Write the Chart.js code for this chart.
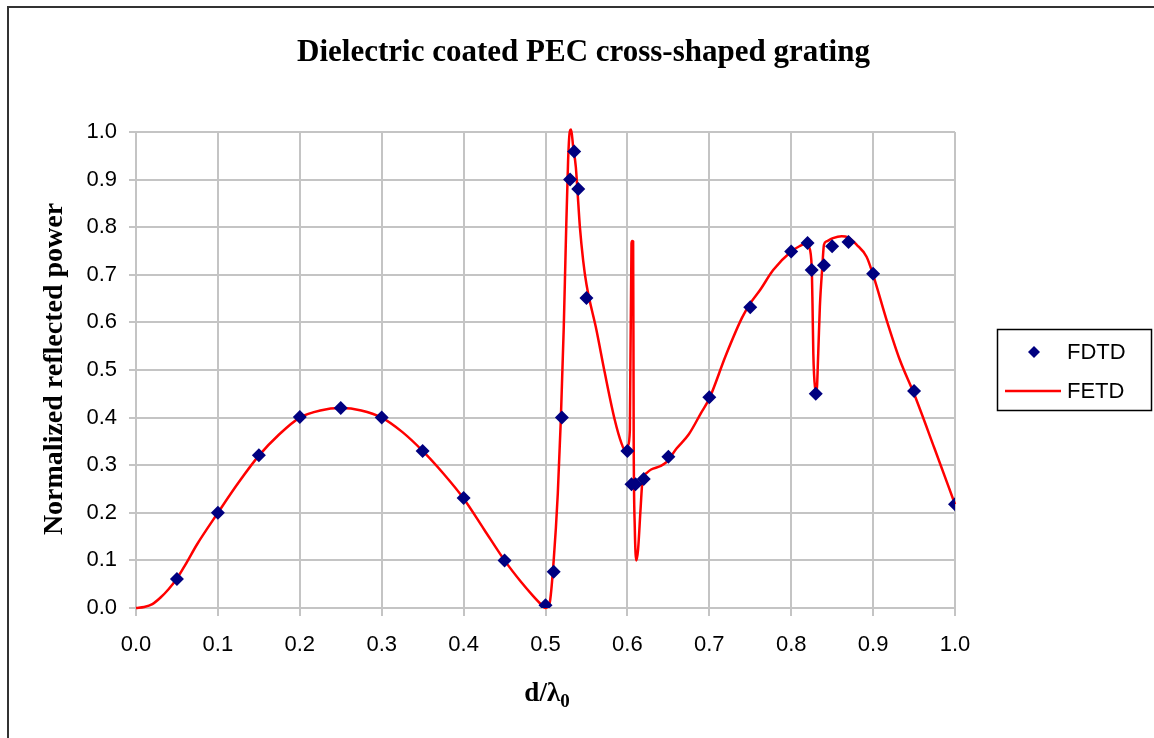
<!DOCTYPE html>
<html>
<head>
<meta charset="utf-8">
<script src="https://cdn.jsdelivr.net/npm/chart.js@4/dist/chart.umd.min.js"></script>
<style>
  html, body { margin: 0; padding: 0; background: #fff; }
  #wrap { width: 1154px; height: 738px; }
</style>
</head>
<body>
<div id="wrap"><canvas id="chart" width="1154" height="738"></canvas></div>
<script>
// FDTD samples (markers)
const fdtdX = [0.05, 0.1, 0.15, 0.2, 0.25, 0.3, 0.35, 0.4, 0.45, 0.5, 0.51, 0.52, 0.53, 0.535, 0.54, 0.55,
  0.6, 0.605, 0.61, 0.62, 0.65, 0.7, 0.75, 0.8, 0.82, 0.825, 0.83, 0.84, 0.85, 0.87, 0.9, 0.95, 1.0];
const fdtdY = [0.061, 0.2, 0.321, 0.401, 0.42, 0.4, 0.33, 0.231, 0.1, 0.006, 0.076, 0.4, 0.9, 0.959, 0.88, 0.651,
  0.33, 0.26, 0.26, 0.271, 0.318, 0.443, 0.632, 0.749, 0.767, 0.71, 0.45, 0.72, 0.76, 0.769, 0.702, 0.456, 0.218];

// FETD curve (line)
const fetdX = [0, 0.01, 0.02, 0.03, 0.04, 0.05, 0.06, 0.075, 0.1, 0.125, 0.15, 0.175, 0.2, 0.225, 0.25, 0.275,
  0.3, 0.325, 0.35, 0.375, 0.4, 0.425, 0.45, 0.47, 0.485, 0.495, 0.5, 0.505, 0.51, 0.515, 0.5187, 0.5223,
  0.5248, 0.5276, 0.5296, 0.5313, 0.5337, 0.537, 0.539, 0.542, 0.546, 0.55, 0.5622, 0.5724, 0.5846, 0.5928,
  0.5968, 0.6009, 0.603, 0.605, 0.6058, 0.607, 0.6077, 0.609, 0.611, 0.613, 0.616, 0.6185, 0.623, 0.629,
  0.64, 0.648, 0.66, 0.675, 0.69, 0.7, 0.72, 0.74, 0.75, 0.762, 0.778, 0.8, 0.81, 0.82, 0.8217, 0.825,
  0.826, 0.827, 0.829, 0.831, 0.833, 0.835, 0.838, 0.84, 0.843, 0.851, 0.8616, 0.869, 0.88, 0.892, 0.9,
  0.9165, 0.9327, 0.95, 0.975, 1.0];
const fetdY = [0, 0.002, 0.008, 0.022, 0.04, 0.062, 0.09, 0.135, 0.2, 0.263, 0.32, 0.365, 0.4, 0.415, 0.42, 0.415,
  0.4, 0.37, 0.33, 0.283, 0.23, 0.165, 0.1, 0.055, 0.025, 0.007, 0.0, 0.01, 0.1, 0.24, 0.395, 0.59,
  0.766, 0.94, 1.0, 1.005, 0.97, 0.927, 0.878, 0.8, 0.73, 0.68, 0.584, 0.494, 0.395, 0.346,
  0.332, 0.342, 0.374, 0.766, 0.771, 0.77, 0.347, 0.17, 0.1, 0.122, 0.206, 0.269, 0.283, 0.291,
  0.298, 0.307, 0.335, 0.365, 0.41, 0.44, 0.53, 0.61, 0.64, 0.668, 0.71, 0.749, 0.76, 0.767, 0.759, 0.717,
  0.64, 0.535, 0.465, 0.455, 0.535, 0.633, 0.717, 0.763, 0.77, 0.777, 0.781, 0.779, 0.763, 0.738, 0.7,
  0.605, 0.521, 0.45, 0.335, 0.218];

const chartTitle = 'Dielectric coated PEC cross-shaped grating';
const yTitle = 'Normalized reflected power';
const seriesNames = ['FDTD', 'FETD'];

const markerColor = '#000080';
const lineColor = '#ff0000';
const gridColor = '#c4c4c4';

function toPoints(xs, ys) {
  return xs.map((x, i) => ({ x: x, y: ys[i] }));
}

function diamond(ctx, x, y, r) {
  ctx.beginPath();
  ctx.moveTo(x, y - r);
  ctx.lineTo(x + r, y);
  ctx.lineTo(x, y + r);
  ctx.lineTo(x - r, y);
  ctx.closePath();
  ctx.fill();
}

// titles, frame and legend box drawn around the chart
const decorations = {
  id: 'decorations',
  afterDraw(chart) {
    const ctx = chart.ctx;
    ctx.save();

    // outer frame (top + left edge only visible)
    ctx.strokeStyle = '#333';
    ctx.lineWidth = 2;
    ctx.beginPath();
    ctx.moveTo(8, 738);
    ctx.lineTo(8, 7);
    ctx.lineTo(1154, 7);
    ctx.stroke();

    ctx.fillStyle = '#000';
    ctx.textAlign = 'center';
    ctx.textBaseline = 'alphabetic';
    ctx.font = 'bold 31px "Liberation Serif", "Times New Roman", serif';
    ctx.fillText(chartTitle, 583.5, 61);

    // y axis title
    ctx.save();
    ctx.translate(62, 369);
    ctx.rotate(-Math.PI / 2);
    ctx.font = 'bold 28px "Liberation Serif", "Times New Roman", serif';
    ctx.fillText(yTitle, 0, 0);
    ctx.restore();

    // x axis title d/λ0
    ctx.font = 'bold 27px "Liberation Serif", "Times New Roman", serif';
    ctx.textAlign = 'left';
    const main = 'd/λ';
    const w = ctx.measureText(main).width;
    ctx.font = 'bold 19px "Liberation Serif", "Times New Roman", serif';
    const ws = ctx.measureText('0').width;
    const x0 = 547 - (w + ws) / 2;
    ctx.font = 'bold 27px "Liberation Serif", "Times New Roman", serif';
    ctx.fillText(main, x0, 701);
    ctx.font = 'bold 19px "Liberation Serif", "Times New Roman", serif';
    ctx.fillText('0', x0 + w, 707);

    // legend
    ctx.strokeStyle = '#000';
    ctx.lineWidth = 1.5;
    ctx.strokeRect(997.5, 329.5, 154, 81);
    ctx.fillStyle = markerColor;
    diamond(ctx, 1034, 352, 6);
    ctx.strokeStyle = lineColor;
    ctx.lineWidth = 2.5;
    ctx.beginPath();
    ctx.moveTo(1005, 391);
    ctx.lineTo(1061, 391);
    ctx.stroke();
    ctx.fillStyle = '#000';
    ctx.font = '22px "Liberation Sans", Arial, sans-serif';
    ctx.textBaseline = 'middle';
    ctx.fillText(seriesNames[0], 1067, 353);
    ctx.fillText(seriesNames[1], 1067, 392);

    ctx.restore();
  }
};

const tickFont = { family: '"Liberation Sans", Arial, sans-serif', size: 22 };

new Chart(document.getElementById('chart'), {
  type: 'scatter',
  data: {
    datasets: [
      {
        label: seriesNames[0],
        data: toPoints(fdtdX, fdtdY),
        showLine: false,
        pointStyle: 'rectRot',
        pointRadius: 7,
        pointBackgroundColor: markerColor,
        pointBorderColor: markerColor,
        pointBorderWidth: 0
      },
      {
        label: seriesNames[1],
        data: toPoints(fetdX, fetdY),
        showLine: true,
        borderColor: lineColor,
        borderWidth: 2.5,
        pointRadius: 0,
        cubicInterpolationMode: 'monotone',
        clip: 12
      }
    ]
  },
  options: {
    responsive: false,
    animation: false,
    layout: { padding: { top: 132, right: 199, left: 0, bottom: 0 } },
    plugins: {
      legend: { display: false },
      tooltip: { enabled: false }
    },
    scales: {
      x: {
        type: 'linear',
        min: 0,
        max: 1,
        afterFit(scale) { scale.height = 130; },
        ticks: {
          stepSize: 0.1,
          color: '#000',
          font: tickFont,
          padding: 16,
          callback: v => v.toFixed(1)
        },
        grid: { color: gridColor, lineWidth: 2, tickLength: 8 },
        border: { color: gridColor, width: 2 }
      },
      y: {
        min: 0,
        max: 1,
        afterFit(scale) { scale.width = 136; },
        ticks: {
          stepSize: 0.1,
          color: '#000',
          font: tickFont,
          padding: 12,
          callback: v => v.toFixed(1)
        },
        grid: { color: gridColor, lineWidth: 2, tickLength: 7 },
        border: { color: gridColor, width: 2 }
      }
    }
  },
  plugins: [decorations]
});
</script>
</body>
</html>
